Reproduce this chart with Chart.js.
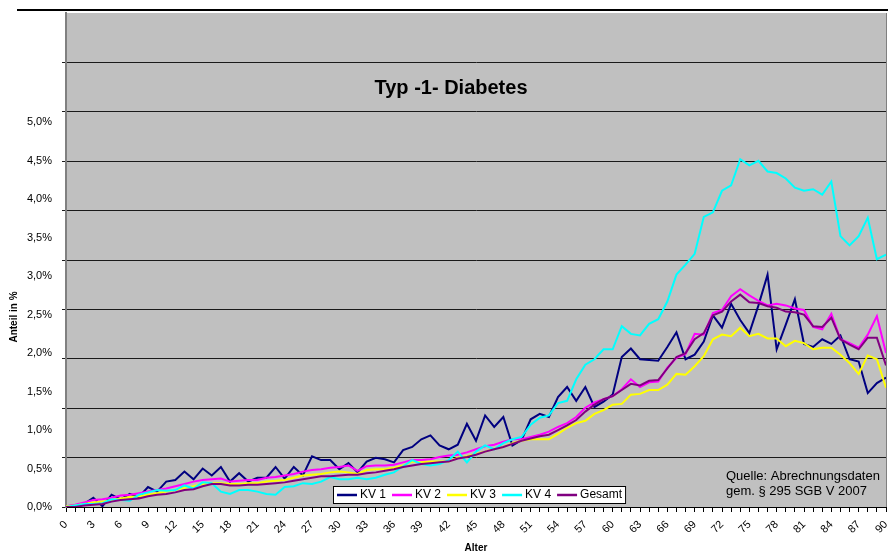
<!DOCTYPE html>
<html>
<head>
<meta charset="utf-8">
<title>Typ -1- Diabetes</title>
<script src="https://cdn.jsdelivr.net/npm/chart.js@4.4.1/dist/chart.umd.min.js"></script>
<style>
  html, body { margin: 0; padding: 0; background: #fff; }
  #wrap { width: 888px; height: 556px; }
</style>
</head>
<body>
<div id="wrap"><canvas id="diabetes-chart" width="888" height="556"></canvas></div>
<script>
// Alter 0..90
var ages = [];
for (var i = 0; i <= 90; i++) ages.push(String(i));

var kv1 = [0.01, 0.02, 0.04, 0.12, 0.01, 0.16, 0.10, 0.17, 0.13, 0.26,
  0.20, 0.33, 0.35, 0.46, 0.36, 0.50, 0.41, 0.52, 0.33, 0.44,
  0.33, 0.38, 0.38, 0.52, 0.37, 0.52, 0.41, 0.66, 0.61, 0.61,
  0.49, 0.57, 0.45, 0.59, 0.64, 0.62, 0.58, 0.74, 0.78, 0.88,
  0.93, 0.80, 0.75, 0.81, 1.08, 0.86, 1.19, 1.04, 1.17, 0.80,
  0.87, 1.14, 1.21, 1.17, 1.43, 1.56, 1.38, 1.56, 1.30, 1.37,
  1.46, 1.95, 2.06, 1.92, 1.91, 1.90, 2.08, 2.27, 1.92, 1.98,
  2.15, 2.49, 2.33, 2.64, 2.43, 2.26, 2.62, 3.02, 2.05, 2.37,
  2.70, 2.12, 2.08, 2.18, 2.12, 2.23, 1.92, 1.89, 1.48, 1.61,
  1.68];

var kv2 = [0.01, 0.03, 0.06, 0.09, 0.10, 0.12, 0.15, 0.16, 0.18, 0.20,
  0.22, 0.24, 0.27, 0.30, 0.33, 0.35, 0.36, 0.37, 0.33, 0.34,
  0.35, 0.35, 0.38, 0.39, 0.41, 0.43, 0.46, 0.48, 0.49, 0.51,
  0.52, 0.54, 0.47, 0.53, 0.54, 0.54, 0.55, 0.58, 0.61, 0.61,
  0.62, 0.65, 0.67, 0.68, 0.71, 0.75, 0.79, 0.81, 0.85, 0.88,
  0.88, 0.91, 0.94, 0.98, 1.04, 1.09, 1.17, 1.29, 1.36, 1.40,
  1.44, 1.53, 1.66, 1.56, 1.62, 1.63, 1.81, 1.94, 1.99, 2.25,
  2.24, 2.52, 2.56, 2.74, 2.83, 2.75, 2.68, 2.62, 2.64, 2.62,
  2.58, 2.56, 2.34, 2.31, 2.51, 2.18, 2.13, 2.07, 2.24, 2.48,
  2.00];

var kv3 = [0.01, 0.02, 0.04, 0.06, 0.07, 0.09, 0.11, 0.13, 0.14, 0.16,
  0.18, 0.20, 0.22, 0.25, 0.27, 0.30, 0.31, 0.31, 0.30, 0.30,
  0.31, 0.31, 0.33, 0.34, 0.35, 0.38, 0.41, 0.42, 0.43, 0.45,
  0.46, 0.45, 0.43, 0.48, 0.49, 0.49, 0.51, 0.54, 0.59, 0.58,
  0.59, 0.59, 0.59, 0.64, 0.66, 0.69, 0.72, 0.76, 0.78, 0.83,
  0.86, 0.88, 0.88, 0.88, 0.95, 1.03, 1.09, 1.12, 1.21, 1.26,
  1.33, 1.34, 1.46, 1.47, 1.52, 1.52, 1.59, 1.73, 1.72, 1.83,
  1.96, 2.18, 2.24, 2.22, 2.33, 2.22, 2.25, 2.19, 2.19, 2.09,
  2.16, 2.13, 2.05, 2.07, 2.07, 1.98, 1.87, 1.73, 1.97, 1.92,
  1.55];

var kv4 = [0.00, 0.02, 0.04, 0.04, 0.05, 0.10, 0.09, 0.08, 0.16, 0.19,
  0.22, 0.21, 0.22, 0.28, 0.24, 0.32, 0.31, 0.20, 0.17, 0.22,
  0.22, 0.20, 0.17, 0.16, 0.26, 0.27, 0.31, 0.30, 0.33, 0.39,
  0.36, 0.36, 0.38, 0.36, 0.38, 0.42, 0.45, 0.53, 0.61, 0.56,
  0.54, 0.56, 0.61, 0.72, 0.58, 0.72, 0.80, 0.75, 0.83, 0.88,
  0.91, 1.07, 1.16, 1.19, 1.35, 1.38, 1.66, 1.85, 1.92, 2.05,
  2.05, 2.35, 2.25, 2.23, 2.38, 2.44, 2.67, 3.02, 3.15, 3.29,
  3.77, 3.83, 4.11, 4.18, 4.52, 4.44, 4.50, 4.36, 4.34, 4.27,
  4.15, 4.11, 4.13, 4.06, 4.23, 3.52, 3.40, 3.52, 3.76, 3.22,
  3.28];

var gesamt = [0.00, 0.00, 0.02, 0.03, 0.04, 0.07, 0.09, 0.10, 0.11, 0.14,
  0.16, 0.17, 0.19, 0.22, 0.23, 0.27, 0.30, 0.30, 0.28, 0.28,
  0.29, 0.29, 0.30, 0.31, 0.32, 0.34, 0.36, 0.38, 0.40, 0.40,
  0.41, 0.42, 0.42, 0.44, 0.45, 0.47, 0.49, 0.52, 0.54, 0.56,
  0.57, 0.58, 0.59, 0.63, 0.65, 0.68, 0.72, 0.75, 0.78, 0.82,
  0.86, 0.89, 0.92, 0.94, 1.00, 1.06, 1.13, 1.24, 1.33, 1.40,
  1.44, 1.52, 1.60, 1.58, 1.64, 1.65, 1.80, 1.95, 2.00, 2.18,
  2.26, 2.49, 2.54, 2.67, 2.76, 2.66, 2.65, 2.61, 2.59, 2.54,
  2.53, 2.50, 2.35, 2.34, 2.46, 2.18, 2.11, 2.05, 2.20, 2.20,
  1.84];

var seriesNames = ['KV 1', 'KV 2', 'KV 3', 'KV 4', 'Gesamt'];
var seriesColors = ['#000080', '#ff00ff', '#ffff00', '#00ffff', '#800080'];
var yTickMax = 5.0;   // last labelled tick
var yAxisTop = 6.42;  // value at top edge of the plot, per the tick labels
var sourceLines = ['Quelle: Abrechnungsdaten', 'gem. \u00a7 295 SGB V 2007'];

Chart.defaults.font.family = '"Liberation Sans", Arial, sans-serif';
Chart.defaults.color = '#000';

var FONT = '"Liberation Sans", Arial, sans-serif';

// grey plot area, frame line, title, y title, source note and the legend box
var decor = {
  id: 'decor',
  beforeDraw: function(chart) {
    var a = chart.chartArea, ctx = chart.ctx;
    ctx.save();
    ctx.fillStyle = '#c0c0c0';
    ctx.fillRect(a.left, a.top, a.right - a.left, a.bottom - a.top);
    ctx.restore();
  },
  afterDraw: function(chart) {
    var a = chart.chartArea, ctx = chart.ctx;
    ctx.save();

    // line above the plot
    ctx.strokeStyle = '#000';
    ctx.lineWidth = 2;
    ctx.beginPath();
    ctx.moveTo(17, a.top - 3);
    ctx.lineTo(chart.width, a.top - 3);
    ctx.stroke();

    // right edge of plot
    ctx.strokeStyle = '#808080';
    ctx.lineWidth = 1;
    ctx.beginPath();
    ctx.moveTo(a.right + 0.5, a.top);
    ctx.lineTo(a.right + 0.5, a.bottom);
    ctx.stroke();

    // title
    ctx.fillStyle = '#000';
    ctx.font = 'bold 20px ' + FONT;
    ctx.textAlign = 'center';
    ctx.textBaseline = 'middle';
    ctx.fillText('Typ -1- Diabetes', a.left + 385, a.top + 75);

    // y axis title
    ctx.save();
    ctx.translate(14, a.top + 304);
    ctx.rotate(-Math.PI / 2);
    ctx.font = 'bold 10px ' + FONT;
    ctx.fillText('Anteil in %', 0, 0);
    ctx.restore();

    // source note
    ctx.font = '13px ' + FONT;
    ctx.textAlign = 'left';
    sourceLines.forEach(function(t, i) {
      ctx.fillText(t, a.right - 160, a.bottom - 31 + i * 15);
    });

    // legend
    ctx.font = '12px ' + FONT;
    var x = a.left + 271;
    var yMid = a.bottom - 12;
    var boxLeft = x - 4;
    var ends = x;
    var sets = chart.data.datasets;
    for (var k = 0; k < sets.length; k++) {
      ends += 23 + ctx.measureText(sets[k].label).width + (k < sets.length - 1 ? 6 : 4);
    }
    ctx.fillStyle = '#fff';
    ctx.fillRect(boxLeft, yMid - 9, ends - boxLeft, 18);
    ctx.strokeStyle = '#000';
    ctx.lineWidth = 1;
    ctx.strokeRect(boxLeft + 0.5, yMid - 8.5, ends - boxLeft - 1, 17);
    sets.forEach(function(ds) {
      ctx.strokeStyle = ds.borderColor;
      ctx.lineWidth = 2.5;
      ctx.beginPath();
      ctx.moveTo(x, yMid);
      ctx.lineTo(x + 20, yMid);
      ctx.stroke();
      ctx.fillStyle = '#000';
      ctx.fillText(ds.label, x + 23, yMid);
      x += 23 + ctx.measureText(ds.label).width + 6;
    });
    ctx.restore();
  }
};

var values = [kv1, kv2, kv3, kv4, gesamt];
var datasets = values.map(function(v, i) {
  return {
    label: seriesNames[i],
    data: v,
    borderColor: seriesColors[i],
    backgroundColor: seriesColors[i],
    borderWidth: 2,
    pointRadius: 0,
    tension: 0,
    fill: false,
    order: values.length - i,
    yAxisID: 'y'
  };
});

var container = document.getElementById('diabetes-chart').getContext('2d');
var myChart = new Chart(container, {
  type: 'line',
  data: { labels: ages, datasets: datasets },
  options: {
    responsive: false,
    animation: false,
    layout: { padding: { top: 13, right: 2, left: 0, bottom: 0 } },
    plugins: {
      legend: { display: false },
      tooltip: { enabled: false }
    },
    scales: {
      x: {
        offset: false,
        grid: { display: true, drawOnChartArea: false, drawTicks: true, tickLength: 5, color: '#000' },
        border: { display: true, color: '#000', width: 1 },
        ticks: {
          autoSkip: false,
          minRotation: 45,
          maxRotation: 45,
          padding: 6,
          font: { size: 11 },
          callback: function(v, i) { return i % 3 === 0 ? this.getLabelForValue(v) : ''; }
        },
        title: { display: true, text: 'Alter', font: { size: 10, weight: 'bold' }, padding: { top: 0, bottom: 2 } },
        afterFit: function(s) { s.height = 49; s.paddingLeft = 0; s.paddingRight = 0; }
      },
      y: {
        position: 'left',
        weight: 1,
        min: 0,
        max: yAxisTop,
        grid: { display: false, drawTicks: false },
        border: { display: false },
        ticks: {
          stepSize: 0.5,
          padding: 10,
          autoSkip: false,
          font: { size: 11 },
          callback: function(v) { return v <= yTickMax + 0.001 ? v.toFixed(1).replace('.', ',') + '%' : ''; }
        },
        afterFit: function(s) { s.width = 62; s.paddingTop = 0; s.paddingBottom = 0; }
      },
      yg: {
        position: 'left',
        weight: 0,
        min: 0,
        max: 10,
        grid: {
          tickLength: 4,
          lineWidth: 1,
          color: function(c) { return c.tick && c.tick.value === 10 ? 'rgba(0,0,0,0)' : '#1a1a1a'; }
        },
        border: { color: '#808080', width: 2 },
        ticks: { display: false, stepSize: 1 },
        afterFit: function(s) { s.width = 4; s.paddingTop = 0; s.paddingBottom = 0; }
      }
    }
  },
  plugins: [decor]
});
</script>
</body>
</html>
